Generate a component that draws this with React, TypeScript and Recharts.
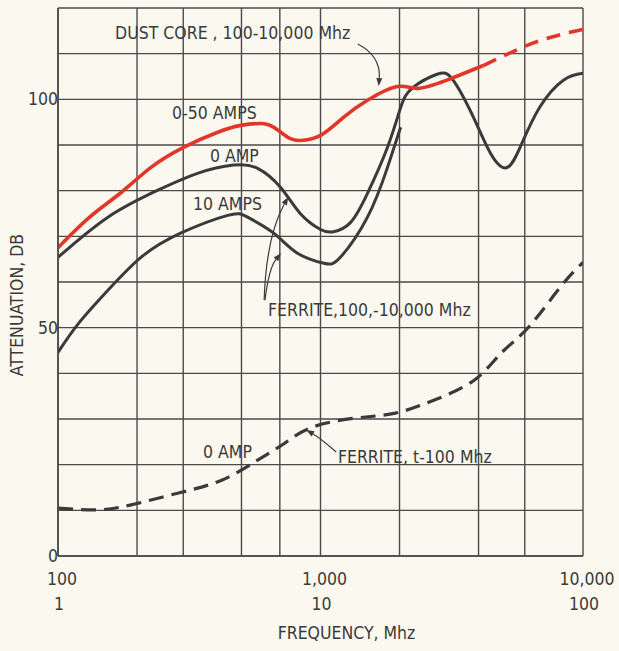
import React from "react";
import {
  LineChart,
  Line,
  XAxis,
  YAxis,
  CartesianGrid,
  ReferenceDot,
} from "recharts";

// frequency in Mhz (lower axis row), attenuation in dB
const dustSolidFreq = [100, 132, 174, 226, 301, 406, 497, 591, 663, 750, 837, 1000, 1220, 1510, 1960, 2340, 3030, 4170];
const dustSolidDb = [67.5, 74.2, 79.6, 85.1, 89.5, 92.8, 94.3, 94.7, 93.9, 91.7, 91, 92.1, 96, 99.8, 102.8, 102.4, 104.2, 107.4];

const dustDashFreq = [4170, 5200, 6430, 8000, 10000];
const dustDashDb = [107.4, 110, 112.3, 114, 115.3];

const ferrite0Freq = [100, 155, 240, 340, 467, 576, 705, 837, 1000, 1120, 1300, 1510, 1800, 2020, 2250, 2780, 3200, 3830, 4440, 5100, 5760, 6830, 8420, 10000];
const ferrite0Db = [65.4, 74.2, 80.1, 83.8, 85.6, 84.9, 80.7, 75, 71.5, 71, 73, 79.4, 89.5, 98.2, 102.6, 105.5, 104.2, 96, 88.2, 85, 89.5, 98.2, 104.2, 105.7];

const ferrite10Freq = [100, 120, 155, 207, 293, 443, 527, 663, 817, 1030, 1190, 1510, 1800, 2020];
const ferrite10Db = [44.6, 51, 58.2, 65.4, 70.7, 74.6, 74.2, 70.7, 66.3, 64.1, 65.4, 74.2, 85.1, 93.9];

const ferriteLowFreq = [100, 140, 190, 288, 420, 576, 730, 930, 1360, 1930, 2700, 3850, 4870, 6200, 8200, 10000];
const ferriteLowDb = [10.5, 10.1, 11.2, 13.8, 16.6, 21, 24.7, 28.2, 30.2, 31.3, 34.1, 38.5, 44.4, 50.1, 58.9, 64.3];

const xTicks = [100, 200, 300, 400, 500, 600, 700, 800, 900, 1000, 2000, 3000, 4000, 5000, 6000, 7000, 8000, 9000, 10000];
const xLabels: Record<number, [string, string]> = {
  100: ["100", "1"],
  1000: ["1,000", "10"],
  10000: ["10,000", "100"],
};
const yTicks = [0, 10, 20, 30, 40, 50, 60, 70, 80, 90, 100, 110, 120];
const yLabels = [0, 50, 100];

const toPoints = (f: number[], v: number[]) => f.map((x, i) => ({ f: x, db: v[i] }));

const INK = "#3a3a3a";
const RED = "#e3362a";
const FONT = "'DejaVu Sans Condensed', 'DejaVu Sans', sans-serif";
const FS = 17.5;

const notes = [
  { f: 165, db: 113.2, text: "DUST CORE , 100-10,000 Mhz" },
  { f: 272, db: 95.7, text: "0-50 AMPS" },
  { f: 379, db: 86.3, text: "0 AMP" },
  { f: 327, db: 75.8, text: "10 AMPS" },
  { f: 631, db: 52.5, text: "FERRITE,100,-10,000 Mhz" },
  { f: 357, db: 21.5, text: "0 AMP" },
  { f: 1165, db: 20.4, text: "FERRITE, t-100 Mhz" },
];

// arrow tip in data units, tail offset and bend in px
const arrows = [
  { f: 1667, db: 102.9, dx: -21, dy: -42, cx: 2, cy: -30 },
  { f: 753, db: 78.6, dx: -24, dy: 103, cx: -22, cy: 40 },
  { f: 707, db: 66.3, dx: -16, dy: 47, cx: -12, cy: 15 },
  { f: 882, db: 27.6, dx: 30, dy: 22, cx: 14, cy: 8 },
];

const XTick = (props: any) => {
  const { x, y, payload } = props;
  const lab = xLabels[payload.value];
  if (!lab) return null;
  return (
    <g>
      <text x={x + 4} y={y + 21} textAnchor="middle" fill={INK} fontSize={FS} fontFamily={FONT}>
        {lab[0]}
      </text>
      <text x={x + 1} y={y + 46} textAnchor="middle" fill={INK} fontSize={FS} fontFamily={FONT}>
        {lab[1]}
      </text>
    </g>
  );
};

const YTick = (props: any) => {
  const { x, y, payload } = props;
  if (!yLabels.includes(payload.value)) return null;
  return (
    <text x={x + 8} y={y + 6} textAnchor="end" fill={INK} fontSize={FS} fontFamily={FONT}>
      {payload.value}
    </text>
  );
};

const YTitle = (props: any) => {
  const vb = props.viewBox;
  const cx = 17;
  const cy = vb.y + vb.height / 2 + 23;
  return (
    <text
      x={cx}
      y={cy}
      transform={`rotate(-90, ${cx}, ${cy})`}
      textAnchor="middle"
      dominantBaseline="central"
      fill={INK}
      fontSize={FS}
      fontFamily={FONT}
    >
      ATTENUATION, DB
    </text>
  );
};

const Arrow = ({ cx, cy, a }: any) => {
  const sx = cx + a.dx;
  const sy = cy + a.dy;
  const qx = cx + a.cx;
  const qy = cy + a.cy;
  const ang = Math.atan2(cy - qy, cx - qx);
  const L = 8;
  const W = 3;
  const bx = cx - L * Math.cos(ang);
  const by = cy - L * Math.sin(ang);
  const px = -Math.sin(ang) * W;
  const py = Math.cos(ang) * W;
  return (
    <g>
      <path d={`M${sx},${sy} Q${qx},${qy} ${bx},${by}`} fill="none" stroke={INK} strokeWidth={1.2} />
      <path d={`M${cx},${cy} L${bx + px},${by + py} L${bx - px},${by - py} Z`} fill={INK} />
    </g>
  );
};

export default function App() {
  return (
    <div style={{ position: "absolute", left: 0, top: 0, width: 619, height: 651, background: "#fbf8ef" }}>
      <LineChart width={619} height={651} margin={{ top: 8, right: 36, bottom: 0, left: 0 }}>
        <CartesianGrid stroke="#4a4a4a" strokeWidth={1.4} />
        <XAxis
          dataKey="f"
          type="number"
          scale="log"
          domain={[100, 10000]}
          ticks={xTicks}
          tick={<XTick />}
          tickLine={false}
          axisLine={{ stroke: "#4a4a4a", strokeWidth: 1.6 }}
          height={95}
          allowDataOverflow
          label={{
            value: "FREQUENCY, Mhz",
            position: "insideBottom",
            offset: 12,
            fill: INK,
            fontSize: FS,
            fontFamily: FONT,
            dx: 26,
          }}
        />
        <YAxis
          type="number"
          domain={[0, 120]}
          ticks={yTicks}
          tick={<YTick />}
          tickLine={false}
          axisLine={{ stroke: "#4a4a4a", strokeWidth: 1.6 }}
          width={58}
          label={{ content: <YTitle /> }}
        />
        <Line data={toPoints(ferriteLowFreq, ferriteLowDb)} dataKey="db" type="natural" stroke={INK} strokeWidth={3.2} strokeDasharray="15 8" dot={false} isAnimationActive={false} />
        <Line data={toPoints(ferrite10Freq, ferrite10Db)} dataKey="db" type="natural" stroke={INK} strokeWidth={3} dot={false} isAnimationActive={false} />
        <Line data={toPoints(ferrite0Freq, ferrite0Db)} dataKey="db" type="natural" stroke={INK} strokeWidth={3} dot={false} isAnimationActive={false} />
        <Line data={toPoints(dustSolidFreq, dustSolidDb)} dataKey="db" type="natural" stroke={RED} strokeWidth={3.6} dot={false} isAnimationActive={false} />
        <Line data={toPoints(dustDashFreq, dustDashDb)} dataKey="db" type="natural" stroke={RED} strokeWidth={3.6} strokeDasharray="14 9" dot={false} isAnimationActive={false} />
        {notes.map((n, i) => (
          <ReferenceDot
            key={"n" + i}
            x={n.f}
            y={n.db}
            r={0}
            ifOverflow="visible"
            shape={(p: any) => (
              <text x={p.cx} y={p.cy} fill={INK} fontSize={FS} fontFamily={FONT}>
                {n.text}
              </text>
            )}
          />
        ))}
        {arrows.map((a, i) => (
          <ReferenceDot
            key={"a" + i}
            x={a.f}
            y={a.db}
            r={0}
            ifOverflow="visible"
            shape={(p: any) => <Arrow cx={p.cx} cy={p.cy} a={a} />}
          />
        ))}
      </LineChart>
    </div>
  );
}
